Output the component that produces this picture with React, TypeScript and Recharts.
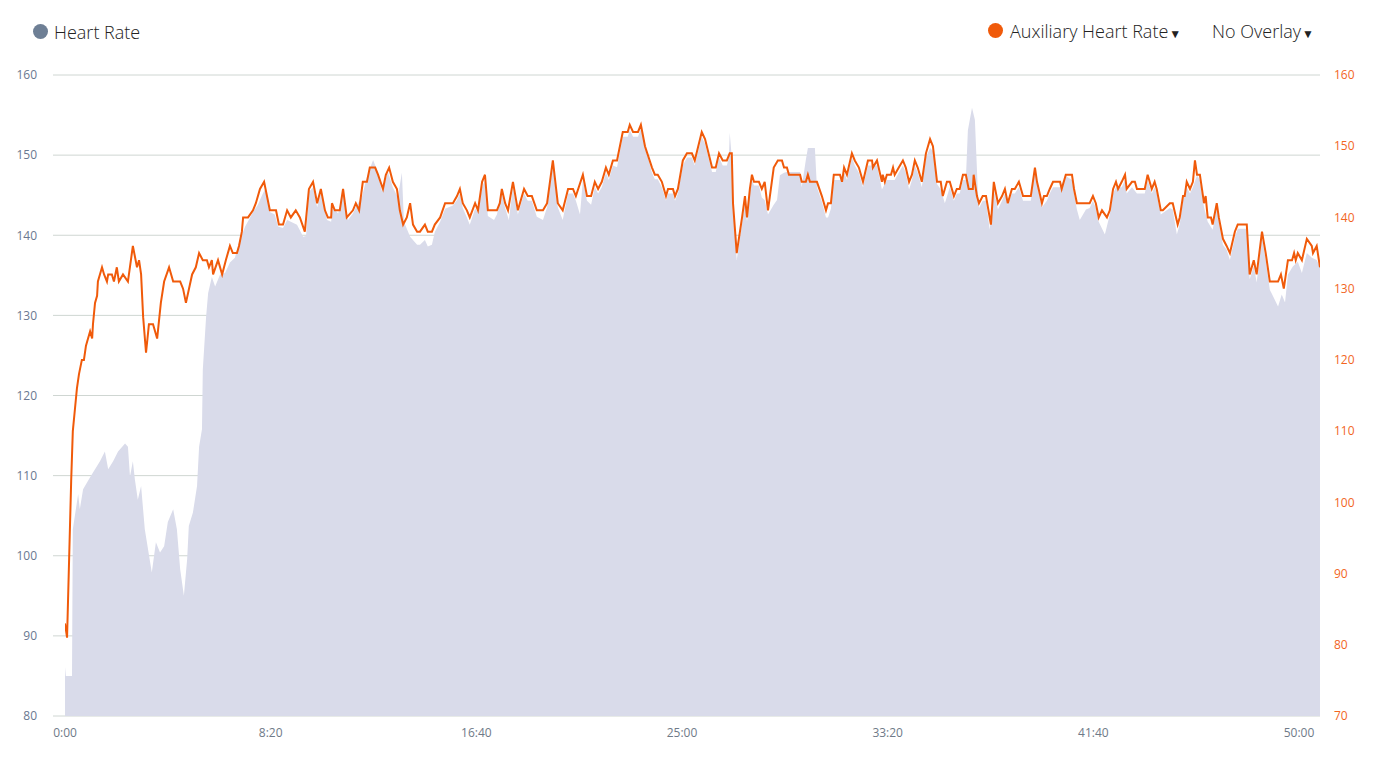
import React from "react";
import { ComposedChart, Area, Line, XAxis, YAxis, CartesianGrid } from "recharts";

// Heart Rate (left axis) — time in seconds, bpm
const hrTimes = [0,2,17,19,32,36,44,61,73,85,97,105,117,129,146,153,158,165,170,177,185,194,211,221,231,241,250,263,272,280,289,297,301,311,321,326,333,335,343,348,357,365,377,389,401,413,425,438,450,457,469,479,486,493,498,510,518,530,540,549,564,579,586,593,603,613,622,637,647,651,664,676,688,700,710,722,734,749,758,771,785,797,809,819,824,839,856,863,875,882,892,899,912,924,943,953,960,967,977,984,997,1004,1014,1021,1028,1043,1050,1062,1070,1079,1089,1101,1116,1125,1135,1147,1162,1172,1186,1198,1210,1223,1235,1242,1252,1259,1269,1279,1288,1296,1305,1315,1322,1332,1342,1356,1368,1373,1381,1393,1400,1410,1427,1434,1441,1451,1461,1466,1478,1483,1490,1502,1512,1524,1531,1548,1556,1573,1582,1590,1599,1609,1614,1616,1621,1624,1633,1646,1653,1658,1665,1670,1675,1687,1694,1701,1709,1723,1731,1738,1748,1755,1787,1791,1801,1806,1823,1828,1840,1850,1855,1862,1869,1884,1894,1901,1913,1920,1930,1940,1952,1962,1974,1986,1998,2008,2017,2027,2037,2044,2052,2059,2066,2073,2083,2093,2103,2110,2120,2129,2139,2151,2161,2168,2175,2183,2190,2195,2205,2212,2219,2222,2231,2239,2248,2258,2268,2278,2285,2292,2302,2309,2319,2329,2348,2358,2363,2375,2387,2394,2402,2419,2433,2448,2453,2460,2467,2482,2491,2499,2506,2513,2528,2540,2548,2555,2569,2577,2581,2594,2606,2625,2632,2642,2649,2654,2664,2686,2693,2703,2710,2718,2727,2735,2742,2752,2759,2764,2769,2778,2790,2800,2805,2815,2824,2832,2844,2851,2873,2880,2890,2897,2910,2919,2929,2949,2958,2966,2973,2985,2997,3007,3019,3031,3043,3051];
const hrValues = [86.1,85,85,103.3,107.7,105.8,108.3,109.8,110.8,111.8,113.0,110.8,111.8,113.0,114.0,113.6,109.9,111.8,109.5,107.0,108.7,103.3,97.9,101.7,100.4,101.2,104.2,105.8,103.3,98.3,95.0,99.6,103.7,105.4,108.7,113.6,115.8,123.2,129.8,132.8,134.8,133.6,135.1,135.3,136.6,137.2,139.4,141.1,142.2,142.9,143.8,145.0,145.7,144.4,142.9,142.6,141.1,140.9,141.9,141.7,141.3,139.8,139.9,145.4,146.0,143.5,145.3,141.9,141.7,143.5,142.7,145.3,141.9,142.7,143.8,144.8,147.3,149.4,148.2,145.4,147.9,146.0,144.7,147.8,141.7,139.8,138.8,138.8,139.4,138.6,138.8,140.4,141.7,143.3,143.7,144.4,145.2,143.4,142.2,141.3,143.3,142.9,146.0,146.9,142.4,141.9,142.6,145.2,143.4,141.9,146.0,142.6,145.2,144.3,144.3,142.3,141.9,143.5,148.7,143.5,141.9,145.2,145.2,144.3,142.6,146.9,144.3,143.8,146.0,145.2,146.0,147.8,146.9,148.7,148.5,152.3,152.3,153.1,152.3,152.3,153.3,151.0,147.8,147.0,147.0,146.0,144.3,145.2,145.2,144.3,145.2,148.7,149.7,149.7,148.7,152.3,151.4,147.9,147.9,149.7,148.7,148.7,149.7,152.8,149.7,143.5,136.9,141.4,144.3,141.7,145.5,146.9,146.2,146.2,144.7,144.4,142.6,143.8,144.4,147.5,147.8,147.9,147.9,146.0,149.4,150.9,150.9,146.0,144.2,142.2,142.2,143.3,146.9,146.9,147.9,146.9,149.7,148.7,147.8,146.0,148.7,148.7,148.7,145.7,146.9,146.9,146.9,147.8,148.7,147.8,145.7,146.9,148.7,147.8,146.0,149.7,150.9,150.5,146.4,145.7,144.0,146.0,144.3,145.2,145.2,146.9,146.9,153.1,155.9,154.4,145.7,143.4,144.3,144.3,140.7,145.7,143.2,144.3,145.2,143.8,145.2,145.2,146.0,144.3,144.3,148.2,146.4,143.5,144.3,145.2,146.0,146.0,147.4,146.9,145.2,143.2,141.9,143.2,143.4,144.3,143.4,141.7,140.1,142.6,145.2,146.0,146.0,146.9,145.2,146.0,145.2,145.2,146.9,145.2,146.0,145.2,142.6,143.4,143.2,140.1,141.4,144.3,146.0,145.2,146.0,147.5,146.9,145.2,143.5,141.7,140.7,143.4,141.7,138.8,138.2,136.9,139.7,140.8,140.8,134.5,136.2,134.1,139.8,136.9,133.2,131.1,132.6,131.6,135.1,136.1,136.7,135.3,137.8,137.2,136.9,136.0];

// Auxiliary Heart Rate (right axis) — time in seconds, bpm
const auxTimes = [0,5,10,15,19,24,29,34,41,46,51,56,61,66,68,73,78,80,90,95,102,105,114,119,126,131,141,153,165,175,180,185,190,197,204,214,224,233,241,253,263,280,287,294,309,318,326,335,345,350,357,360,372,382,391,401,408,418,423,430,433,445,457,464,474,484,498,513,520,530,540,549,561,571,583,593,603,613,622,632,639,647,649,656,668,676,685,700,707,715,724,734,741,754,761,773,780,788,797,807,814,822,831,839,846,856,863,875,882,892,899,912,924,931,943,953,960,967,977,984,997,1004,1014,1021,1028,1050,1057,1062,1070,1077,1089,1101,1116,1125,1135,1147,1162,1172,1186,1198,1210,1223,1235,1242,1259,1269,1279,1288,1296,1305,1315,1322,1332,1342,1356,1368,1373,1381,1393,1400,1410,1427,1434,1441,1451,1461,1466,1478,1483,1490,1502,1512,1524,1531,1548,1556,1573,1582,1590,1599,1609,1616,1621,1624,1633,1646,1653,1658,1665,1670,1675,1687,1694,1701,1709,1723,1733,1743,1748,1755,1760,1787,1791,1801,1806,1811,1828,1840,1850,1855,1862,1869,1884,1889,1894,1901,1913,1920,1930,1940,1952,1962,1964,1974,1986,1988,1993,1998,2008,2013,2017,2027,2037,2044,2052,2059,2066,2073,2083,2093,2103,2110,2120,2129,2134,2144,2151,2161,2168,2175,2183,2190,2197,2207,2209,2217,2222,2231,2239,2251,2258,2268,2278,2285,2292,2302,2309,2319,2329,2338,2348,2358,2363,2375,2380,2387,2394,2402,2419,2423,2433,2448,2453,2460,2491,2499,2506,2513,2521,2533,2540,2548,2555,2560,2569,2577,2581,2594,2601,2606,2625,2632,2642,2649,2654,2664,2669,2686,2693,2705,2710,2718,2722,2727,2735,2742,2747,2752,2759,2764,2769,2773,2778,2786,2790,2800,2805,2815,2824,2832,2844,2851,2873,2880,2890,2897,2910,2919,2929,2949,2956,2963,2973,2983,2988,2992,2997,3007,3019,3031,3034,3043,3051];
const auxValues = [83,81,92,103,110,113,116,118,120,120,122,123,124,123,125,128,129,131,133,132,131,132,132,131,133,131,132,131,136,133,134,132,126,121,125,125,123,128,131,133,131,131,130,128,132,133,135,134,134,133,134,132,134,132,134,136,135,135,136,138,140,140,141,142,144,145,141,141,139,139,141,140,141,140,138,144,145,142,144,141,140,140,142,141,141,144,140,141,142,141,145,145,147,147,146,144,146,147,145,144,141,139,140,142,139,138,138,139,138,138,139,140,142,142,142,143,144,142,141,140,142,141,145,146,141,141,142,144,142,141,145,141,144,143,143,141,141,142,148,142,141,144,144,143,146,143,143,145,144,145,147,146,148,148,152,152,153,152,152,153,150,147,146,146,145,143,144,144,143,144,148,149,149,148,152,151,147,147,149,148,148,149,149,142,135,140,143,140,144,146,145,145,144,145,141,147,148,148,147,147,146,146,145,145,146,145,145,143,141,142,142,146,146,145,147,146,149,148,147,145,148,148,147,148,145,146,145,146,146,147,146,147,148,147,145,146,148,147,145,149,151,150,145,145,143,145,145,143,144,144,146,146,144,144,146,143,142,143,143,139,145,142,143,144,142,144,144,145,143,143,143,147,145,142,143,143,144,145,145,144,146,146,144,142,142,143,142,140,141,140,141,144,145,144,145,146,144,145,145,144,144,146,144,145,144,141,141,142,142,139,140,143,143,145,144,145,148,146,146,144,142,143,140,140,139,142,140,137,136,135,138,139,139,132,134,132,138,135,131,131,132,130,134,134,135,134,135,134,137,136,135,136,133];

const xTicks = [0, 500, 1000, 1500, 2000, 2500, 3000];
const leftTicks = [80, 90, 100, 110, 120, 130, 140, 150, 160];
const rightTicks = [70, 80, 90, 100, 110, 120, 130, 140, 150, 160];

const hrData = hrTimes.map((t, i) => ({ t, hr: hrValues[i] }));
const auxData = auxTimes.map((t, i) => ({ t, aux: auxValues[i] }));

const fmtTime = (s: number) => `${Math.floor(s / 60)}:${String(Math.round(s % 60)).padStart(2, "0")}`;

const FONT = "'Open Sans', 'Noto Sans', sans-serif";
const ORANGE = "#f05a0a";

export default function App() {
  return (
    <div style={{ position: "absolute", left: 0, top: 0, width: 1374, height: 763, background: "#fff", fontFamily: FONT }}>
      <div style={{ position: "absolute", left: 33, top: 24, width: 15, height: 15, borderRadius: "50%", background: "#6e7f95" }} />
      <div style={{ position: "absolute", left: 54, top: 20, fontSize: 18, fontWeight: 300, color: "#222", lineHeight: "24px" }}>Heart Rate</div>
      <div style={{ position: "absolute", left: 988, top: 23, width: 15, height: 15, borderRadius: "50%", background: ORANGE }} />
      <div style={{ position: "absolute", left: 1010, top: 19, fontSize: 18, fontWeight: 300, color: "#222", lineHeight: "24px", whiteSpace: "nowrap" }}>
        Auxiliary Heart Rate<span style={{ fontSize: 12, marginLeft: 1 }}>▼</span>
      </div>
      <div style={{ position: "absolute", left: 1212, top: 19, fontSize: 18, fontWeight: 300, color: "#222", lineHeight: "24px", whiteSpace: "nowrap" }}>
        No Overlay<span style={{ fontSize: 12, marginLeft: 1 }}>▼</span>
      </div>
      <ComposedChart width={1374} height={763} margin={{ top: 75, right: 0, bottom: 17, left: 0 }} style={{ position: "absolute", left: 0, top: 0 }}>
        <CartesianGrid yAxisId="left" vertical={false} stroke="#cfd6d2" strokeWidth={1} />
        <XAxis
          dataKey="t"
          type="number"
          domain={[0, 3051]}
          ticks={xTicks}
          tickFormatter={fmtTime}
          padding={{ left: 12, right: 0 }}
          axisLine={false}
          tickLine={false}
          tickSize={0}
          tickMargin={12}
          height={30}
          tick={{ fill: "#6f7a88", fontSize: 12, fontFamily: FONT }}
          allowDataOverflow
        />
        <YAxis
          yAxisId="left"
          orientation="left"
          domain={[80, 160]}
          ticks={leftTicks}
          width={53}
          axisLine={false}
          tickLine={false}
          tickSize={0}
          tickMargin={16}
          tick={{ fill: "#6a7890", fontSize: 12, fontFamily: FONT }}
          allowDataOverflow
        />
        <YAxis
          yAxisId="right"
          orientation="right"
          domain={[70, 160]}
          ticks={rightTicks}
          width={54}
          axisLine={false}
          tickLine={false}
          tickSize={0}
          tickMargin={14}
          tick={{ fill: "#f2661f", fontSize: 12, fontFamily: FONT }}
          allowDataOverflow
        />
        <Area
          yAxisId="left"
          data={hrData}
          dataKey="hr"
          type="linear"
          stroke="none"
          fill="#d9dbea"
          fillOpacity={1}
          isAnimationActive={false}
          dot={false}
          activeDot={false}
        />
        <Line
          yAxisId="right"
          data={auxData}
          dataKey="aux"
          type="linear"
          stroke={ORANGE}
          strokeWidth={2}
          dot={false}
          activeDot={false}
          isAnimationActive={false}
        />
      </ComposedChart>
    </div>
  );
}
